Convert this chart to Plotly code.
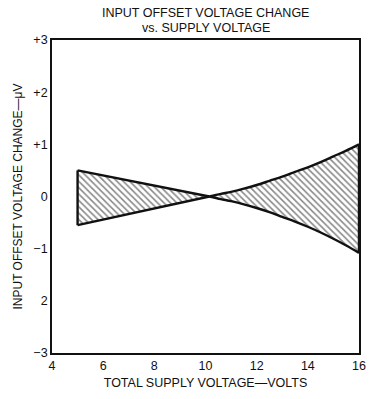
import plotly.graph_objects as go

# Data
left_x = [5.0, 10.15]
left_upper = [0.50, 0.0]
left_lower = [-0.55, 0.0]
right_x = [10.15, 10.6, 11, 11.5, 12, 12.5, 13, 13.5, 14, 14.5, 15, 15.5, 16]
right_upper = [0.0, 0.05, 0.09, 0.15, 0.22, 0.30, 0.38, 0.47, 0.56, 0.66, 0.77, 0.88, 1.0]
right_lower = [0.0, -0.05, -0.09, -0.15, -0.22, -0.30, -0.39, -0.48, -0.58, -0.69, -0.81, -0.94, -1.08]

x_ticks = [4, 6, 8, 10, 12, 14, 16]
y_ticks = [3, 2, 1, 0, -1, -2, -3]
y_labels = ["+3", "+2", "+1", "0", "\u22121", "2", "\u22123"]
title_lines = ["INPUT OFFSET VOLTAGE CHANGE", "vs. SUPPLY VOLTAGE"]

poly_x = left_x + right_x[1:] + right_x[::-1][:-1] + left_x[::-1] + [left_x[0]]
poly_y = left_upper + right_upper[1:] + right_lower[::-1][:-1] + left_lower[::-1] + [left_upper[0]]

FONT = "Liberation Sans, Arial, Helvetica, sans-serif"
INK = "#111"
LW = 2.4

fig = go.Figure()
# hatched fill
fig.add_trace(go.Scatter(
    x=poly_x, y=poly_y, mode="lines", fill="toself",
    fillcolor="rgba(0,0,0,0)", line=dict(width=0, color="rgba(0,0,0,0)"),
    fillpattern=dict(shape="\\", size=4.5, solidity=0.35, fgcolor="#111", bgcolor="white"),
    hoverinfo="skip", showlegend=False,
))
# outlines
for xs, ys, shp in [
    (left_x, left_upper, "linear"),
    (left_x, left_lower, "linear"),
    (right_x, right_upper, "spline"),
    (right_x, right_lower, "spline"),
    ([left_x[0], left_x[0]], [left_upper[0], left_lower[0]], "linear"),
    ([right_x[-1], right_x[-1]], [right_upper[-1], right_lower[-1]], "linear"),
]:
    fig.add_trace(go.Scatter(
        x=xs, y=ys, mode="lines", line=dict(color=INK, width=LW, shape=shp),
        hoverinfo="skip", showlegend=False,
    ))

fig.update_layout(
    width=377, height=399,
    margin=dict(l=52, r=11, t=40, b=44),
    paper_bgcolor="white", plot_bgcolor="white",
    font=dict(family=FONT, color=INK, size=12),
    showlegend=False,
    annotations=[
        dict(text=title_lines[0], xref="paper", yref="paper", x=0.5, y=1.086,
             xanchor="center", yanchor="middle", showarrow=False,
             font=dict(size=12.5, family=FONT, color=INK)),
        dict(text=title_lines[1], xref="paper", yref="paper", x=0.5, y=1.038,
             xanchor="center", yanchor="middle", showarrow=False,
             font=dict(size=12.5, family=FONT, color=INK)),
    ],
)
fig.update_xaxes(
    range=[4, 16], tickvals=x_ticks, ticktext=[str(v) for v in x_ticks],
    showgrid=False, zeroline=False, showline=True, linecolor=INK, linewidth=1.8,
    mirror=True, ticks="", tickfont=dict(size=12.5, family=FONT),
    title=dict(text="TOTAL SUPPLY VOLTAGE\u2014VOLTS", font=dict(size=12.5, family=FONT), standoff=6),
)
fig.update_yaxes(
    range=[-3, 3], tickvals=y_ticks, ticktext=y_labels,
    showgrid=False, zeroline=False, showline=True, linecolor=INK, linewidth=1.8,
    mirror=True, ticks="", tickfont=dict(size=12.5, family=FONT),
    title=dict(text="INPUT OFFSET VOLTAGE CHANGE\u2014\u03bcV", font=dict(size=12, family=FONT), standoff=8),
)

fig.write_html("out.html")
